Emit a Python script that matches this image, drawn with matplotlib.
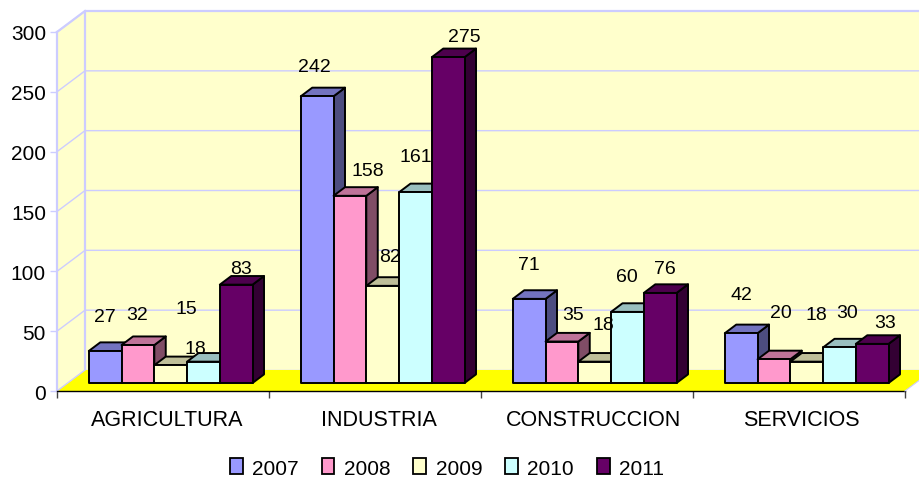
import matplotlib
matplotlib.use("Agg")
import matplotlib.pyplot as plt
from matplotlib.patches import Patch
from matplotlib.colors import to_rgb

plt.rcParams["font.family"] = ["Liberation Sans", "DejaVu Sans"]

CATEGORIAS = ["AGRICULTURA", "INDUSTRIA", "CONSTRUCCION", "SERVICIOS"]
ANIOS = ["2007", "2008", "2009", "2010", "2011"]
V2007 = [27, 242, 71, 42]
V2008 = [32, 158, 35, 20]
V2009 = [15, 82, 18, 18]
V2010 = [18, 161, 60, 30]
V2011 = [83, 275, 76, 33]
SERIES = [V2007, V2008, V2009, V2010, V2011]
COLORES = ["#9999FF", "#FF99CC", "#FFFFCC", "#CCFFFF", "#660066"]
Y_TICKS = [0, 50, 100, 150, 200, 250, 300]

# posicion de las etiquetas en pixeles (x, y desde arriba), por serie y categoria
ETIQUETAS = [
    [(105, 318), (314, 68), (529, 266), (741, 296)],
    [(137, 316), (368, 172), (573, 316), (781, 314)],
    [(186, 310), (390, 258), (603, 326), (816, 316)],
    [(195, 350), (416, 158), (627, 278), (847, 314)],
    [(241, 270), (464, 38), (665, 270), (885, 324)],
]
# esta etiqueta queda tapada en parte por su barra
DETRAS = [(3, 0)]

W, H = 920, 481
GRID = "#CCCCFF"
PARED = "#FFFFCC"
PISO = "#FFFF00"

# profundidad del grafico 3D, en unidades de datos
PROF_X = 28 / 212
PROF_Y = 21 / 1.197
BAR_DX = 0.052
BAR_DY = 6.7
TOP_DX = 0.054
TOP_DY = 7.2
INICIO = 0.098
ANCHO = 0.1545


def oscuro(col, f):
    r, g, b = to_rgb(col)
    return (r * f, g * f, b * f)


fig = plt.figure(figsize=(W / 100, H / 100), dpi=100, facecolor="white")
ax = fig.add_axes([57 / W, 1 - 392 / H, 848 / W, 359 / H])
ax.set_xlim(0, 4)
ax.set_ylim(0, 300)
ax.patch.set_visible(False)
for s in ax.spines.values():
    s.set_visible(False)

# paredes y piso
ax.fill([PROF_X, 4 + PROF_X, 4 + PROF_X, PROF_X], [PROF_Y, PROF_Y, 300 + PROF_Y, 300 + PROF_Y],
        color=PARED, lw=0, clip_on=False, zorder=1)
ax.fill([0, PROF_X, PROF_X, 0], [0, PROF_Y, 300 + PROF_Y, 300], color=PARED, lw=0, clip_on=False, zorder=1)
ax.fill([0, 4, 4 + PROF_X, PROF_X], [0, 0, PROF_Y, PROF_Y], color=PISO, lw=0, clip_on=False, zorder=2)

for v in Y_TICKS[1:]:
    ax.plot([0, PROF_X, 4 + PROF_X], [v, v + PROF_Y, v + PROF_Y], color=GRID, lw=1.0, clip_on=False, zorder=1.5)
ax.plot([PROF_X, 4 + PROF_X], [PROF_Y, PROF_Y], color=GRID, lw=1.0, clip_on=False, zorder=1.5)
ax.plot([0, 0], [0, 300], color=GRID, lw=1.6, clip_on=False, zorder=2.5)
ax.plot([PROF_X, PROF_X, 4 + PROF_X], [PROF_Y, 300 + PROF_Y, 300 + PROF_Y], color=GRID, lw=1.6, clip_on=False, zorder=1.6)
ax.plot([0, PROF_X], [300, 300 + PROF_Y], color=GRID, lw=1.6, clip_on=False, zorder=1.6)
ax.plot([0, PROF_X], [0, PROF_Y], color=GRID, lw=1.0, clip_on=False, zorder=2.5)
ax.plot([0, 4], [0, 0], color="black", lw=1.0, clip_on=False, zorder=2.5)
ax.plot([4, 4 + PROF_X], [0, PROF_Y], color=GRID, lw=0.8, clip_on=False, zorder=2.5)

# barras
z = 3
for c in range(len(CATEGORIAS)):
    for i, serie in enumerate(SERIES):
        col = COLORES[i]
        x0 = c + INICIO + i * ANCHO + BAR_DX
        x1 = x0 + ANCHO
        y0 = BAR_DY
        y1 = y0 + serie[c] * 0.99
        kw = dict(edgecolor="black", lw=1.4, joinstyle="round", clip_on=False, zorder=z)
        ax.fill([x1, x1 + TOP_DX, x1 + TOP_DX, x1], [y0, y0 + TOP_DY, y1 + TOP_DY, y1],
                facecolor=oscuro(col, 0.5), **kw)
        ax.fill([x0, x1, x1 + TOP_DX, x0 + TOP_DX], [y1, y1, y1 + TOP_DY, y1 + TOP_DY],
                facecolor=oscuro(col, 0.75), **kw)
        ax.fill([x0, x1, x1, x0], [y0, y0, y1, y1], facecolor=col, **kw)
        z += 0.01

# ejes
ax.set_yticks(Y_TICKS)
ax.tick_params(axis="y", length=5, width=1.0, color=GRID, labelsize=15, labelcolor="black", pad=3)
ax.set_xticks(range(5))
ax.set_xticklabels([])
ax.tick_params(axis="x", length=5, width=1.0, color="#444444", which="major")
ax.set_xticks([0.52, 1.52, 2.53, 3.51], minor=True)
ax.set_xticklabels(CATEGORIAS, minor=True)
ax.tick_params(axis="x", which="minor", length=0, labelsize=15.5, pad=13)

for i, serie in enumerate(SERIES):
    for c, v in enumerate(serie):
        px, py = ETIQUETAS[i][c]
        zt = 2.8 if (i, c) in DETRAS else 10
        ax.text(px / W, 1 - py / H, str(v), fontsize=14, ha="center", va="center", color="black",
                transform=fig.transFigure, clip_on=False, zorder=zt)

handles = [Patch(facecolor=col, edgecolor="black", lw=1.3, label=a) for col, a in zip(COLORES, ANIOS)]
fig.legend(handles=handles, ncol=5, frameon=False, fontsize=15, loc="center",
           bbox_to_anchor=(447 / W, 1 - 469 / H), handlelength=0.62, handleheight=0.8,
           handletextpad=0.45, columnspacing=1.1, borderpad=0)

fig.savefig("out.png", dpi=100, facecolor="white")
